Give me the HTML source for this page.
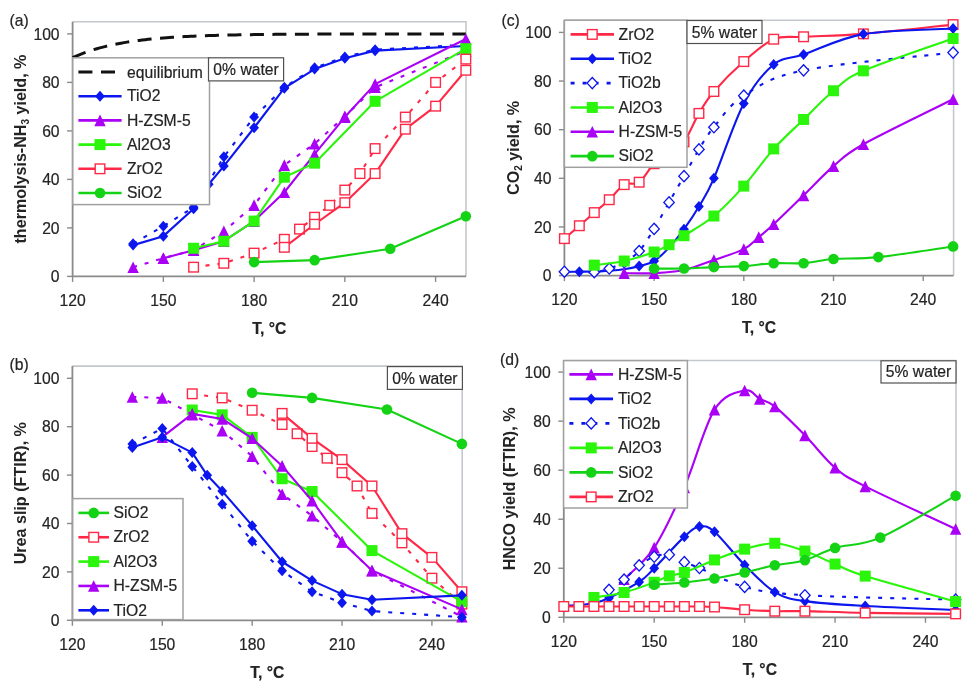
<!DOCTYPE html><html><head><meta charset="utf-8"><style>html,body{margin:0;padding:0;background:#fff;width:975px;height:686px;overflow:hidden}svg{display:block;filter:blur(0.3px)}text{font-family:"Liberation Sans", sans-serif}</style></head><body>
<svg width="975" height="686" viewBox="0 0 975 686">
<rect width="975" height="686" fill="#fff"/>
<text x="9.5" y="25.8" text-anchor="start" font-size="15.7" fill="#242424" stroke="#242424" stroke-width="0.2">(a)</text>
<path d="M72.6 21.7 L466 21.7 L466 276.4" fill="none" stroke="#c4c8cc" stroke-width="1.6"/>
<path d="M72.6 21.7 L72.6 276.4 L466 276.4" fill="none" stroke="#8a8a8a" stroke-width="1.8"/>
<path d="M67.1 276.4 H72.6" stroke="#8a8a8a" stroke-width="1.4"/>
<text x="59.6" y="282" text-anchor="end" font-size="15.7" fill="#242424" stroke="#242424" stroke-width="0.2">0</text>
<path d="M67.1 227.9 H72.6" stroke="#8a8a8a" stroke-width="1.4"/>
<text x="59.6" y="233.5" text-anchor="end" font-size="15.7" fill="#242424" stroke="#242424" stroke-width="0.2">20</text>
<path d="M67.1 179.4 H72.6" stroke="#8a8a8a" stroke-width="1.4"/>
<text x="59.6" y="185" text-anchor="end" font-size="15.7" fill="#242424" stroke="#242424" stroke-width="0.2">40</text>
<path d="M67.1 130.9 H72.6" stroke="#8a8a8a" stroke-width="1.4"/>
<text x="59.6" y="136.5" text-anchor="end" font-size="15.7" fill="#242424" stroke="#242424" stroke-width="0.2">60</text>
<path d="M67.1 82.4 H72.6" stroke="#8a8a8a" stroke-width="1.4"/>
<text x="59.6" y="88" text-anchor="end" font-size="15.7" fill="#242424" stroke="#242424" stroke-width="0.2">80</text>
<path d="M67.1 33.9 H72.6" stroke="#8a8a8a" stroke-width="1.4"/>
<text x="59.6" y="39.5" text-anchor="end" font-size="15.7" fill="#242424" stroke="#242424" stroke-width="0.2">100</text>
<path d="M72.6 276.4 V281.9" stroke="#8a8a8a" stroke-width="1.4"/>
<text x="72.6" y="306.2" text-anchor="middle" font-size="15.7" fill="#242424" stroke="#242424" stroke-width="0.2">120</text>
<path d="M163.35 276.4 V281.9" stroke="#8a8a8a" stroke-width="1.4"/>
<text x="163.35" y="306.2" text-anchor="middle" font-size="15.7" fill="#242424" stroke="#242424" stroke-width="0.2">150</text>
<path d="M254.1 276.4 V281.9" stroke="#8a8a8a" stroke-width="1.4"/>
<text x="254.1" y="306.2" text-anchor="middle" font-size="15.7" fill="#242424" stroke="#242424" stroke-width="0.2">180</text>
<path d="M344.85 276.4 V281.9" stroke="#8a8a8a" stroke-width="1.4"/>
<text x="344.85" y="306.2" text-anchor="middle" font-size="15.7" fill="#242424" stroke="#242424" stroke-width="0.2">210</text>
<path d="M435.6 276.4 V281.9" stroke="#8a8a8a" stroke-width="1.4"/>
<text x="435.6" y="306.2" text-anchor="middle" font-size="15.7" fill="#242424" stroke="#242424" stroke-width="0.2">240</text>
<text x="269.3" y="333.7" text-anchor="middle" font-size="15.7" font-weight="bold" fill="#242424" stroke="#242424" stroke-width="0.2">T, °C</text>
<text transform="translate(26 149.05) rotate(-90)" text-anchor="middle" font-size="16.1" font-weight="bold" fill="#242424">thermolysis-NH<tspan font-size="10" dy="3">3</tspan><tspan dy="-3"> yield, %</tspan></text>
<path d="M72.6 57.66 L75.62 56.31 L78.65 55.03 L81.67 53.82 L84.7 52.68 L87.72 51.61 L90.75 50.6 L93.77 49.64 L96.8 48.74 L99.82 47.9 L102.85 47.1 L105.88 46.34 L108.9 45.63 L111.92 44.96 L114.95 44.33 L117.97 43.73 L121 43.17 L124.02 42.64 L127.05 42.14 L130.07 41.67 L133.1 41.23 L136.12 40.81 L139.15 40.41 L142.18 40.04 L145.2 39.69 L148.22 39.36 L151.25 39.05 L154.27 38.75 L157.3 38.48 L160.32 38.22 L163.35 37.97 L166.38 37.74 L169.4 37.52 L172.43 37.31 L175.45 37.12 L178.47 36.93 L181.5 36.76 L184.52 36.6 L187.55 36.44 L190.57 36.3 L193.6 36.16 L196.62 36.03 L199.65 35.91 L202.67 35.79 L205.7 35.69 L208.72 35.58 L211.75 35.49 L214.77 35.4 L217.8 35.31 L220.82 35.23 L223.85 35.15 L226.88 35.08 L229.9 35.02 L232.92 34.95 L235.95 34.89 L238.97 34.84 L242 34.78 L245.02 34.73 L248.05 34.68 L251.07 34.64 L254.1 34.6 L257.12 34.56 L260.15 34.52 L263.17 34.48 L266.2 34.45 L269.23 34.42 L272.25 34.39 L275.27 34.36 L278.3 34.34 L281.32 34.31 L284.35 34.29 L287.38 34.26 L290.4 34.24 L293.42 34.22 L296.45 34.21 L299.48 34.19 L302.5 34.17 L305.52 34.16 L308.55 34.14 L311.57 34.13 L314.6 34.11 L317.62 34.1 L320.65 34.09 L323.67 34.08 L326.7 34.07 L329.73 34.06 L332.75 34.05 L335.77 34.04 L338.8 34.03 L341.82 34.03 L344.85 34.02 L347.88 34.01 L350.9 34.01 L353.92 34 L356.95 33.99 L359.98 33.99 L363 33.98 L366.02 33.98 L369.05 33.97 L372.07 33.97 L375.1 33.97 L378.12 33.96 L381.15 33.96 L384.17 33.96 L387.2 33.95 L390.23 33.95 L393.25 33.95 L396.27 33.94 L399.3 33.94 L402.32 33.94 L405.35 33.94 L408.38 33.93 L411.4 33.93 L414.42 33.93 L417.45 33.93 L420.48 33.93 L423.5 33.93 L426.52 33.92 L429.55 33.92 L432.57 33.92 L435.6 33.92 L438.62 33.92 L441.65 33.92 L444.67 33.92 L447.7 33.92 L450.73 33.92 L453.75 33.91 L456.77 33.91 L459.8 33.91 L462.82 33.91 L465.85 33.91" fill="none" stroke="#111" stroke-width="3" stroke-dasharray="14 8.5"/>
<path d="M133.1 245.12 L163.35 236.14 L193.6 208.74 L208.72 184.25 L223.85 166.06 L254.1 127.75 L284.35 88.22 L314.6 69.06 L344.85 58.15 L375.1 50.63 L465.85 46.03" fill="none" stroke="#0c16ee" stroke-width="2.1" stroke-linejoin="round"/>
<path d="M133.1 239.62 L138 245.12 L133.1 250.62 L128.2 245.12 Z" fill="#0c16ee"/>
<path d="M163.35 230.64 L168.25 236.14 L163.35 241.64 L158.45 236.14 Z" fill="#0c16ee"/>
<path d="M193.6 203.24 L198.5 208.74 L193.6 214.24 L188.7 208.74 Z" fill="#0c16ee"/>
<path d="M208.72 178.75 L213.62 184.25 L208.72 189.75 L203.82 184.25 Z" fill="#0c16ee"/>
<path d="M223.85 160.56 L228.75 166.06 L223.85 171.56 L218.95 166.06 Z" fill="#0c16ee"/>
<path d="M254.1 122.25 L259 127.75 L254.1 133.25 L249.2 127.75 Z" fill="#0c16ee"/>
<path d="M284.35 82.72 L289.25 88.22 L284.35 93.72 L279.45 88.22 Z" fill="#0c16ee"/>
<path d="M314.6 63.56 L319.5 69.06 L314.6 74.56 L309.7 69.06 Z" fill="#0c16ee"/>
<path d="M344.85 52.65 L349.75 58.15 L344.85 63.65 L339.95 58.15 Z" fill="#0c16ee"/>
<path d="M375.1 45.13 L380 50.63 L375.1 56.13 L370.2 50.63 Z" fill="#0c16ee"/>
<path d="M465.85 40.53 L470.75 46.03 L465.85 51.53 L460.95 46.03 Z" fill="#0c16ee"/>
<path d="M133.1 243.66 L163.35 226.2 L193.6 207.29 L223.85 156.85 L254.1 117.08 L284.35 87.25 L314.6 67.85 L344.85 56.94 L375.1 49.66 L465.85 44.81" fill="none" stroke="#0c16ee" stroke-width="2.1" stroke-dasharray="4 8" stroke-linejoin="round"/>
<path d="M133.1 238.16 L138 243.66 L133.1 249.16 L128.2 243.66 Z" fill="#0c16ee"/>
<path d="M163.35 220.7 L168.25 226.2 L163.35 231.7 L158.45 226.2 Z" fill="#0c16ee"/>
<path d="M193.6 201.79 L198.5 207.29 L193.6 212.79 L188.7 207.29 Z" fill="#0c16ee"/>
<path d="M223.85 151.35 L228.75 156.85 L223.85 162.35 L218.95 156.85 Z" fill="#0c16ee"/>
<path d="M254.1 111.58 L259 117.08 L254.1 122.58 L249.2 117.08 Z" fill="#0c16ee"/>
<path d="M284.35 81.75 L289.25 87.25 L284.35 92.75 L279.45 87.25 Z" fill="#0c16ee"/>
<path d="M314.6 62.35 L319.5 67.85 L314.6 73.35 L309.7 67.85 Z" fill="#0c16ee"/>
<path d="M344.85 51.44 L349.75 56.94 L344.85 62.44 L339.95 56.94 Z" fill="#0c16ee"/>
<path d="M375.1 44.16 L380 49.66 L375.1 55.16 L370.2 49.66 Z" fill="#0c16ee"/>
<path d="M465.85 39.31 L470.75 44.81 L465.85 50.31 L460.95 44.81 Z" fill="#0c16ee"/>
<path d="M133.1 267.19 L163.35 258.21 L193.6 250.21 L223.85 231.29 L254.1 205.1 L284.35 165.09 L314.6 143.75 L344.85 116.35 L375.1 87.25 L465.85 50.88" fill="none" stroke="#aa00f5" stroke-width="2.1" stroke-dasharray="4 8" stroke-linejoin="round"/>
<path d="M133.1 261.38 L138.8 272.99 L127.4 272.99 Z" fill="#aa00f5"/>
<path d="M163.35 252.41 L169.05 264.01 L157.65 264.01 Z" fill="#aa00f5"/>
<path d="M193.6 244.41 L199.3 256.01 L187.9 256.01 Z" fill="#aa00f5"/>
<path d="M223.85 225.49 L229.55 237.09 L218.15 237.09 Z" fill="#aa00f5"/>
<path d="M254.1 199.3 L259.8 210.91 L248.4 210.91 Z" fill="#aa00f5"/>
<path d="M284.35 159.29 L290.05 170.89 L278.65 170.89 Z" fill="#aa00f5"/>
<path d="M314.6 137.95 L320.3 149.55 L308.9 149.55 Z" fill="#aa00f5"/>
<path d="M344.85 110.55 L350.55 122.15 L339.15 122.15 Z" fill="#aa00f5"/>
<path d="M375.1 81.45 L380.8 93.05 L369.4 93.05 Z" fill="#aa00f5"/>
<path d="M465.85 45.08 L471.55 56.67 L460.15 56.67 Z" fill="#aa00f5"/>
<path d="M163.35 258.21 L193.6 250.21 L223.85 241.24 L254.1 221.11 L284.35 192.25 L314.6 154.18 L344.85 117.08 L375.1 84.1 L465.85 38.99" fill="none" stroke="#aa00f5" stroke-width="2.1" stroke-linejoin="round"/>
<path d="M163.35 252.41 L169.05 264.01 L157.65 264.01 Z" fill="#aa00f5"/>
<path d="M193.6 244.41 L199.3 256.01 L187.9 256.01 Z" fill="#aa00f5"/>
<path d="M223.85 235.44 L229.55 247.04 L218.15 247.04 Z" fill="#aa00f5"/>
<path d="M254.1 215.31 L259.8 226.91 L248.4 226.91 Z" fill="#aa00f5"/>
<path d="M284.35 186.45 L290.05 198.05 L278.65 198.05 Z" fill="#aa00f5"/>
<path d="M314.6 148.38 L320.3 159.98 L308.9 159.98 Z" fill="#aa00f5"/>
<path d="M344.85 111.28 L350.55 122.88 L339.15 122.88 Z" fill="#aa00f5"/>
<path d="M375.1 78.3 L380.8 89.9 L369.4 89.9 Z" fill="#aa00f5"/>
<path d="M465.85 33.19 L471.55 44.79 L460.15 44.79 Z" fill="#aa00f5"/>
<path d="M193.6 248.27 L223.85 241.24 L254.1 221.11 L284.35 177.22 L314.6 163.15 L375.1 101.31 L465.85 48.69" fill="none" stroke="#2af50a" stroke-width="2.1" stroke-linejoin="round"/>
<rect x="188.1" y="242.77" width="11" height="11" fill="#2af50a"/>
<rect x="218.35" y="235.74" width="11" height="11" fill="#2af50a"/>
<rect x="248.6" y="215.61" width="11" height="11" fill="#2af50a"/>
<rect x="278.85" y="171.72" width="11" height="11" fill="#2af50a"/>
<rect x="309.1" y="157.65" width="11" height="11" fill="#2af50a"/>
<rect x="369.6" y="95.81" width="11" height="11" fill="#2af50a"/>
<rect x="460.35" y="43.19" width="11" height="11" fill="#2af50a"/>
<path d="M193.6 267.19 L223.85 263.3 L254.1 253.12 L284.35 239.3 L299.48 229.11 L314.6 217.23 L329.73 205.35 L344.85 190.07 L359.98 173.58 L375.1 148.6 L405.35 117.08 L435.6 82.4 L465.85 59.12" fill="none" stroke="#ff2846" stroke-width="2.1" stroke-dasharray="4 8" stroke-linejoin="round"/>
<rect x="188.8" y="262.38" width="9.6" height="9.6" fill="#fff" stroke="#ff2846" stroke-width="1.4"/>
<rect x="219.05" y="258.5" width="9.6" height="9.6" fill="#fff" stroke="#ff2846" stroke-width="1.4"/>
<rect x="249.3" y="248.32" width="9.6" height="9.6" fill="#fff" stroke="#ff2846" stroke-width="1.4"/>
<rect x="279.55" y="234.5" width="9.6" height="9.6" fill="#fff" stroke="#ff2846" stroke-width="1.4"/>
<rect x="294.68" y="224.31" width="9.6" height="9.6" fill="#fff" stroke="#ff2846" stroke-width="1.4"/>
<rect x="309.8" y="212.43" width="9.6" height="9.6" fill="#fff" stroke="#ff2846" stroke-width="1.4"/>
<rect x="324.93" y="200.55" width="9.6" height="9.6" fill="#fff" stroke="#ff2846" stroke-width="1.4"/>
<rect x="340.05" y="185.27" width="9.6" height="9.6" fill="#fff" stroke="#ff2846" stroke-width="1.4"/>
<rect x="355.18" y="168.78" width="9.6" height="9.6" fill="#fff" stroke="#ff2846" stroke-width="1.4"/>
<rect x="370.3" y="143.8" width="9.6" height="9.6" fill="#fff" stroke="#ff2846" stroke-width="1.4"/>
<rect x="400.55" y="112.28" width="9.6" height="9.6" fill="#fff" stroke="#ff2846" stroke-width="1.4"/>
<rect x="430.8" y="77.6" width="9.6" height="9.6" fill="#fff" stroke="#ff2846" stroke-width="1.4"/>
<rect x="461.05" y="54.32" width="9.6" height="9.6" fill="#fff" stroke="#ff2846" stroke-width="1.4"/>
<path d="M284.35 247.3 L314.6 224.26 L344.85 202.68 L375.1 173.58 L405.35 129.2 L435.6 106.16 L465.85 70.28" fill="none" stroke="#ff2846" stroke-width="2.1" stroke-linejoin="round"/>
<rect x="279.55" y="242.5" width="9.6" height="9.6" fill="#fff" stroke="#ff2846" stroke-width="1.4"/>
<rect x="309.8" y="219.46" width="9.6" height="9.6" fill="#fff" stroke="#ff2846" stroke-width="1.4"/>
<rect x="340.05" y="197.88" width="9.6" height="9.6" fill="#fff" stroke="#ff2846" stroke-width="1.4"/>
<rect x="370.3" y="168.78" width="9.6" height="9.6" fill="#fff" stroke="#ff2846" stroke-width="1.4"/>
<rect x="400.55" y="124.4" width="9.6" height="9.6" fill="#fff" stroke="#ff2846" stroke-width="1.4"/>
<rect x="430.8" y="101.36" width="9.6" height="9.6" fill="#fff" stroke="#ff2846" stroke-width="1.4"/>
<rect x="461.05" y="65.48" width="9.6" height="9.6" fill="#fff" stroke="#ff2846" stroke-width="1.4"/>
<path d="M254.1 262.09 L314.6 260.15 L390.23 248.75 L465.85 216.26" fill="none" stroke="#14d214" stroke-width="2.1" stroke-linejoin="round"/>
<circle cx="254.1" cy="262.09" r="5.3" fill="#14d214"/>
<circle cx="314.6" cy="260.15" r="5.3" fill="#14d214"/>
<circle cx="390.23" cy="248.75" r="5.3" fill="#14d214"/>
<circle cx="465.85" cy="216.26" r="5.3" fill="#14d214"/>
<rect x="72.8" y="57.8" width="136.7" height="146.8" fill="#fff" stroke="#a0a0a0" stroke-width="1.5"/>
<path d="M78.4 72 H121.6" stroke="#111" stroke-width="3" stroke-dasharray="14 8.6"/>
<text x="127" y="77.6" text-anchor="start" font-size="15.7" fill="#242424" stroke="#242424" stroke-width="0.2">equilibrium</text>
<path d="M78.4 96.2 H121.6" stroke="#0c16ee" stroke-width="2.6"/>
<path d="M100 90.7 L104.9 96.2 L100 101.7 L95.1 96.2 Z" fill="#0c16ee"/>
<text x="127" y="101.4" text-anchor="start" font-size="15.7" fill="#242424" stroke="#242424" stroke-width="0.2">TiO2</text>
<path d="M78.4 120.4 H121.6" stroke="#aa00f5" stroke-width="2.6"/>
<path d="M100 114.6 L105.7 126.2 L94.3 126.2 Z" fill="#aa00f5"/>
<text x="127" y="125.6" text-anchor="start" font-size="15.7" fill="#242424" stroke="#242424" stroke-width="0.2">H-ZSM-5</text>
<path d="M78.4 144.6 H121.6" stroke="#2af50a" stroke-width="2.6"/>
<rect x="94.5" y="139.1" width="11" height="11" fill="#2af50a"/>
<text x="127" y="149.8" text-anchor="start" font-size="15.7" fill="#242424" stroke="#242424" stroke-width="0.2">Al2O3</text>
<path d="M78.4 168.8 H121.6" stroke="#ff2846" stroke-width="2.6"/>
<rect x="95.2" y="164" width="9.6" height="9.6" fill="#fff" stroke="#ff2846" stroke-width="1.4"/>
<text x="127" y="174" text-anchor="start" font-size="15.7" fill="#242424" stroke="#242424" stroke-width="0.2">ZrO2</text>
<path d="M78.4 193 H121.6" stroke="#14d214" stroke-width="2.6"/>
<circle cx="100" cy="193" r="5.3" fill="#14d214"/>
<text x="127" y="198.2" text-anchor="start" font-size="15.7" fill="#242424" stroke="#242424" stroke-width="0.2">SiO2</text>
<rect x="208.5" y="57.8" width="75.1" height="23.1" fill="#fff" stroke="#505050" stroke-width="1.2"/>
<text x="246.05" y="74.85" text-anchor="middle" font-size="15.7" fill="#242424" stroke="#242424" stroke-width="0.2">0% water</text>
<text x="9.5" y="369.7" text-anchor="start" font-size="15.7" fill="#242424" stroke="#242424" stroke-width="0.2">(b)</text>
<path d="M72.4 366.1 L462.2 366.1 L462.2 620.3" fill="none" stroke="#c4c8cc" stroke-width="1.6"/>
<path d="M72.4 366.1 L72.4 620.3 L462.2 620.3" fill="none" stroke="#8a8a8a" stroke-width="1.8"/>
<path d="M66.9 620.3 H72.4" stroke="#8a8a8a" stroke-width="1.4"/>
<text x="59.4" y="625.9" text-anchor="end" font-size="15.7" fill="#242424" stroke="#242424" stroke-width="0.2">0</text>
<path d="M66.9 571.9 H72.4" stroke="#8a8a8a" stroke-width="1.4"/>
<text x="59.4" y="577.5" text-anchor="end" font-size="15.7" fill="#242424" stroke="#242424" stroke-width="0.2">20</text>
<path d="M66.9 523.5 H72.4" stroke="#8a8a8a" stroke-width="1.4"/>
<text x="59.4" y="529.1" text-anchor="end" font-size="15.7" fill="#242424" stroke="#242424" stroke-width="0.2">40</text>
<path d="M66.9 475.1 H72.4" stroke="#8a8a8a" stroke-width="1.4"/>
<text x="59.4" y="480.7" text-anchor="end" font-size="15.7" fill="#242424" stroke="#242424" stroke-width="0.2">60</text>
<path d="M66.9 426.7 H72.4" stroke="#8a8a8a" stroke-width="1.4"/>
<text x="59.4" y="432.3" text-anchor="end" font-size="15.7" fill="#242424" stroke="#242424" stroke-width="0.2">80</text>
<path d="M66.9 378.3 H72.4" stroke="#8a8a8a" stroke-width="1.4"/>
<text x="59.4" y="383.9" text-anchor="end" font-size="15.7" fill="#242424" stroke="#242424" stroke-width="0.2">100</text>
<path d="M72.4 620.3 V625.8" stroke="#8a8a8a" stroke-width="1.4"/>
<text x="72.4" y="650.1" text-anchor="middle" font-size="15.7" fill="#242424" stroke="#242424" stroke-width="0.2">120</text>
<path d="M162.28 620.3 V625.8" stroke="#8a8a8a" stroke-width="1.4"/>
<text x="162.28" y="650.1" text-anchor="middle" font-size="15.7" fill="#242424" stroke="#242424" stroke-width="0.2">150</text>
<path d="M252.16 620.3 V625.8" stroke="#8a8a8a" stroke-width="1.4"/>
<text x="252.16" y="650.1" text-anchor="middle" font-size="15.7" fill="#242424" stroke="#242424" stroke-width="0.2">180</text>
<path d="M342.04 620.3 V625.8" stroke="#8a8a8a" stroke-width="1.4"/>
<text x="342.04" y="650.1" text-anchor="middle" font-size="15.7" fill="#242424" stroke="#242424" stroke-width="0.2">210</text>
<path d="M431.92 620.3 V625.8" stroke="#8a8a8a" stroke-width="1.4"/>
<text x="431.92" y="650.1" text-anchor="middle" font-size="15.7" fill="#242424" stroke="#242424" stroke-width="0.2">240</text>
<text x="267.3" y="677.6" text-anchor="middle" font-size="15.7" font-weight="bold" fill="#242424" stroke="#242424" stroke-width="0.2">T, °C</text>
<text transform="translate(25.5 493.2) rotate(-90)" text-anchor="middle" font-size="16.1" font-weight="bold" fill="#242424">Urea slip (FTIR), %</text>
<path d="M252.16 392.82 L312.08 397.9 L386.98 409.52 L461.88 443.88" fill="none" stroke="#14d214" stroke-width="2.1" stroke-linejoin="round"/>
<circle cx="252.16" cy="392.82" r="5.3" fill="#14d214"/>
<circle cx="312.08" cy="397.9" r="5.3" fill="#14d214"/>
<circle cx="386.98" cy="409.52" r="5.3" fill="#14d214"/>
<circle cx="461.88" cy="443.88" r="5.3" fill="#14d214"/>
<path d="M192.24 393.79 L222.2 397.9 L252.16 410.24 L282.12 424.52 L297.1 433.72 L312.08 446.54 L327.06 458.16 L342.04 472.68 L357.02 485.99 L372 513.34 L401.96 542.86 L431.92 578.19 L461.88 604.09" fill="none" stroke="#ff2846" stroke-width="2.1" stroke-dasharray="4 8" stroke-linejoin="round"/>
<rect x="187.44" y="388.99" width="9.6" height="9.6" fill="#fff" stroke="#ff2846" stroke-width="1.4"/>
<rect x="217.4" y="393.1" width="9.6" height="9.6" fill="#fff" stroke="#ff2846" stroke-width="1.4"/>
<rect x="247.36" y="405.44" width="9.6" height="9.6" fill="#fff" stroke="#ff2846" stroke-width="1.4"/>
<rect x="277.32" y="419.72" width="9.6" height="9.6" fill="#fff" stroke="#ff2846" stroke-width="1.4"/>
<rect x="292.3" y="428.92" width="9.6" height="9.6" fill="#fff" stroke="#ff2846" stroke-width="1.4"/>
<rect x="307.28" y="441.74" width="9.6" height="9.6" fill="#fff" stroke="#ff2846" stroke-width="1.4"/>
<rect x="322.26" y="453.36" width="9.6" height="9.6" fill="#fff" stroke="#ff2846" stroke-width="1.4"/>
<rect x="337.24" y="467.88" width="9.6" height="9.6" fill="#fff" stroke="#ff2846" stroke-width="1.4"/>
<rect x="352.22" y="481.19" width="9.6" height="9.6" fill="#fff" stroke="#ff2846" stroke-width="1.4"/>
<rect x="367.2" y="508.54" width="9.6" height="9.6" fill="#fff" stroke="#ff2846" stroke-width="1.4"/>
<rect x="397.16" y="538.06" width="9.6" height="9.6" fill="#fff" stroke="#ff2846" stroke-width="1.4"/>
<rect x="427.12" y="573.39" width="9.6" height="9.6" fill="#fff" stroke="#ff2846" stroke-width="1.4"/>
<rect x="457.08" y="599.29" width="9.6" height="9.6" fill="#fff" stroke="#ff2846" stroke-width="1.4"/>
<path d="M282.12 413.39 L312.08 438.32 L342.04 459.61 L372 485.99 L401.96 533.66 L431.92 557.38 L461.88 591.74" fill="none" stroke="#ff2846" stroke-width="2.1" stroke-linejoin="round"/>
<rect x="277.32" y="408.59" width="9.6" height="9.6" fill="#fff" stroke="#ff2846" stroke-width="1.4"/>
<rect x="307.28" y="433.52" width="9.6" height="9.6" fill="#fff" stroke="#ff2846" stroke-width="1.4"/>
<rect x="337.24" y="454.81" width="9.6" height="9.6" fill="#fff" stroke="#ff2846" stroke-width="1.4"/>
<rect x="367.2" y="481.19" width="9.6" height="9.6" fill="#fff" stroke="#ff2846" stroke-width="1.4"/>
<rect x="397.16" y="528.86" width="9.6" height="9.6" fill="#fff" stroke="#ff2846" stroke-width="1.4"/>
<rect x="427.12" y="552.58" width="9.6" height="9.6" fill="#fff" stroke="#ff2846" stroke-width="1.4"/>
<rect x="457.08" y="586.94" width="9.6" height="9.6" fill="#fff" stroke="#ff2846" stroke-width="1.4"/>
<path d="M192.24 410 L222.2 414.84 L252.16 437.35 L282.12 478.73 L312.08 491.56 L372 550.6 L461.88 601.67" fill="none" stroke="#2af50a" stroke-width="2.1" stroke-linejoin="round"/>
<rect x="186.74" y="404.5" width="11" height="11" fill="#2af50a"/>
<rect x="216.7" y="409.34" width="11" height="11" fill="#2af50a"/>
<rect x="246.66" y="431.85" width="11" height="11" fill="#2af50a"/>
<rect x="276.62" y="473.23" width="11" height="11" fill="#2af50a"/>
<rect x="306.58" y="486.06" width="11" height="11" fill="#2af50a"/>
<rect x="366.5" y="545.1" width="11" height="11" fill="#2af50a"/>
<rect x="456.38" y="596.17" width="11" height="11" fill="#2af50a"/>
<path d="M132.32 396.93 L162.28 397.9 L192.24 414.6 L222.2 430.81 L252.16 456.22 L282.12 494.22 L312.08 515.76 L342.04 541.65 L372 570.69 L461.88 616.67" fill="none" stroke="#aa00f5" stroke-width="2.1" stroke-dasharray="4 8" stroke-linejoin="round"/>
<path d="M132.32 391.13 L138.02 402.73 L126.62 402.73 Z" fill="#aa00f5"/>
<path d="M162.28 392.1 L167.98 403.7 L156.58 403.7 Z" fill="#aa00f5"/>
<path d="M192.24 408.8 L197.94 420.4 L186.54 420.4 Z" fill="#aa00f5"/>
<path d="M222.2 425.01 L227.9 436.61 L216.5 436.61 Z" fill="#aa00f5"/>
<path d="M252.16 450.42 L257.86 462.02 L246.46 462.02 Z" fill="#aa00f5"/>
<path d="M282.12 488.42 L287.82 500.02 L276.42 500.02 Z" fill="#aa00f5"/>
<path d="M312.08 509.96 L317.78 521.56 L306.38 521.56 Z" fill="#aa00f5"/>
<path d="M342.04 535.85 L347.74 547.45 L336.34 547.45 Z" fill="#aa00f5"/>
<path d="M372 564.89 L377.7 576.49 L366.3 576.49 Z" fill="#aa00f5"/>
<path d="M461.88 610.87 L467.58 622.47 L456.18 622.47 Z" fill="#aa00f5"/>
<path d="M162.28 437.11 L192.24 413.87 L222.2 418.96 L252.16 438.32 L282.12 465.9 L312.08 500.75 L342.04 541.89 L372 570.45 L461.88 609.41" fill="none" stroke="#aa00f5" stroke-width="2.1" stroke-linejoin="round"/>
<path d="M162.28 431.31 L167.98 442.91 L156.58 442.91 Z" fill="#aa00f5"/>
<path d="M192.24 408.07 L197.94 419.67 L186.54 419.67 Z" fill="#aa00f5"/>
<path d="M222.2 413.16 L227.9 424.76 L216.5 424.76 Z" fill="#aa00f5"/>
<path d="M252.16 432.52 L257.86 444.12 L246.46 444.12 Z" fill="#aa00f5"/>
<path d="M282.12 460.1 L287.82 471.7 L276.42 471.7 Z" fill="#aa00f5"/>
<path d="M312.08 494.95 L317.78 506.55 L306.38 506.55 Z" fill="#aa00f5"/>
<path d="M342.04 536.09 L347.74 547.69 L336.34 547.69 Z" fill="#aa00f5"/>
<path d="M372 564.65 L377.7 576.25 L366.3 576.25 Z" fill="#aa00f5"/>
<path d="M461.88 603.61 L467.58 615.21 L456.18 615.21 Z" fill="#aa00f5"/>
<path d="M132.32 444.12 L162.28 428.39 L192.24 466.39 L222.2 504.14 L252.16 541.17 L282.12 570.69 L312.08 591.74 L342.04 602.63 L372 611.1 L461.88 617.15" fill="none" stroke="#0c16ee" stroke-width="2.1" stroke-dasharray="4 8" stroke-linejoin="round"/>
<path d="M132.32 438.62 L137.22 444.12 L132.32 449.62 L127.42 444.12 Z" fill="#0c16ee"/>
<path d="M162.28 422.89 L167.18 428.39 L162.28 433.89 L157.38 428.39 Z" fill="#0c16ee"/>
<path d="M192.24 460.89 L197.14 466.39 L192.24 471.89 L187.34 466.39 Z" fill="#0c16ee"/>
<path d="M222.2 498.64 L227.1 504.14 L222.2 509.64 L217.3 504.14 Z" fill="#0c16ee"/>
<path d="M252.16 535.67 L257.06 541.17 L252.16 546.67 L247.26 541.17 Z" fill="#0c16ee"/>
<path d="M282.12 565.19 L287.02 570.69 L282.12 576.19 L277.22 570.69 Z" fill="#0c16ee"/>
<path d="M312.08 586.24 L316.98 591.74 L312.08 597.24 L307.18 591.74 Z" fill="#0c16ee"/>
<path d="M342.04 597.13 L346.94 602.63 L342.04 608.13 L337.14 602.63 Z" fill="#0c16ee"/>
<path d="M372 605.6 L376.9 611.1 L372 616.6 L367.1 611.1 Z" fill="#0c16ee"/>
<path d="M461.88 611.65 L466.78 617.15 L461.88 622.65 L456.98 617.15 Z" fill="#0c16ee"/>
<path d="M132.32 447.51 L162.28 437.35 L192.24 452.59 L207.22 475.34 L222.2 491.07 L252.16 525.68 L282.12 561.74 L312.08 580.61 L342.04 594.16 L372 599.73 L461.88 595.37" fill="none" stroke="#0c16ee" stroke-width="2.1" stroke-linejoin="round"/>
<path d="M132.32 442.01 L137.22 447.51 L132.32 453.01 L127.42 447.51 Z" fill="#0c16ee"/>
<path d="M162.28 431.85 L167.18 437.35 L162.28 442.85 L157.38 437.35 Z" fill="#0c16ee"/>
<path d="M192.24 447.09 L197.14 452.59 L192.24 458.09 L187.34 452.59 Z" fill="#0c16ee"/>
<path d="M207.22 469.84 L212.12 475.34 L207.22 480.84 L202.32 475.34 Z" fill="#0c16ee"/>
<path d="M222.2 485.57 L227.1 491.07 L222.2 496.57 L217.3 491.07 Z" fill="#0c16ee"/>
<path d="M252.16 520.18 L257.06 525.68 L252.16 531.18 L247.26 525.68 Z" fill="#0c16ee"/>
<path d="M282.12 556.24 L287.02 561.74 L282.12 567.24 L277.22 561.74 Z" fill="#0c16ee"/>
<path d="M312.08 575.11 L316.98 580.61 L312.08 586.11 L307.18 580.61 Z" fill="#0c16ee"/>
<path d="M342.04 588.66 L346.94 594.16 L342.04 599.66 L337.14 594.16 Z" fill="#0c16ee"/>
<path d="M372 594.23 L376.9 599.73 L372 605.23 L367.1 599.73 Z" fill="#0c16ee"/>
<path d="M461.88 589.87 L466.78 595.37 L461.88 600.87 L456.98 595.37 Z" fill="#0c16ee"/>
<rect x="72.7" y="498.6" width="110.3" height="121" fill="#fff" stroke="#a0a0a0" stroke-width="1.5"/>
<path d="M78.4 512.9 H109" stroke="#14d214" stroke-width="2.6"/>
<circle cx="93.7" cy="512.9" r="5.3" fill="#14d214"/>
<text x="113.5" y="518.1" text-anchor="start" font-size="15.7" fill="#242424" stroke="#242424" stroke-width="0.2">SiO2</text>
<path d="M78.4 537.25 H109" stroke="#ff2846" stroke-width="2.6"/>
<rect x="88.9" y="532.45" width="9.6" height="9.6" fill="#fff" stroke="#ff2846" stroke-width="1.4"/>
<text x="113.5" y="542.45" text-anchor="start" font-size="15.7" fill="#242424" stroke="#242424" stroke-width="0.2">ZrO2</text>
<path d="M78.4 561.6 H109" stroke="#2af50a" stroke-width="2.6"/>
<rect x="88.2" y="556.1" width="11" height="11" fill="#2af50a"/>
<text x="113.5" y="566.8" text-anchor="start" font-size="15.7" fill="#242424" stroke="#242424" stroke-width="0.2">Al2O3</text>
<path d="M78.4 585.95 H109" stroke="#aa00f5" stroke-width="2.6"/>
<path d="M93.7 580.15 L99.4 591.75 L88 591.75 Z" fill="#aa00f5"/>
<text x="113.5" y="591.15" text-anchor="start" font-size="15.7" fill="#242424" stroke="#242424" stroke-width="0.2">H-ZSM-5</text>
<path d="M78.4 610.3 H109" stroke="#0c16ee" stroke-width="2.6"/>
<path d="M93.7 604.8 L98.6 610.3 L93.7 615.8 L88.8 610.3 Z" fill="#0c16ee"/>
<text x="113.5" y="615.5" text-anchor="start" font-size="15.7" fill="#242424" stroke="#242424" stroke-width="0.2">TiO2</text>
<rect x="387.4" y="366.6" width="75" height="22.8" fill="#fff" stroke="#505050" stroke-width="1.2"/>
<text x="424.9" y="383.5" text-anchor="middle" font-size="15.7" fill="#242424" stroke="#242424" stroke-width="0.2">0% water</text>
<text x="501.5" y="25.6" text-anchor="start" font-size="15.7" fill="#242424" stroke="#242424" stroke-width="0.2">(c)</text>
<path d="M564.4 20.2 L953.6 20.2 L953.6 275.6" fill="none" stroke="#c4c8cc" stroke-width="1.6"/>
<path d="M564.4 20.2 L564.4 275.6 L953.6 275.6" fill="none" stroke="#8a8a8a" stroke-width="1.8"/>
<path d="M558.9 275.6 H564.4" stroke="#8a8a8a" stroke-width="1.4"/>
<text x="551.4" y="281.2" text-anchor="end" font-size="15.7" fill="#242424" stroke="#242424" stroke-width="0.2">0</text>
<path d="M558.9 226.96 H564.4" stroke="#8a8a8a" stroke-width="1.4"/>
<text x="551.4" y="232.56" text-anchor="end" font-size="15.7" fill="#242424" stroke="#242424" stroke-width="0.2">20</text>
<path d="M558.9 178.32 H564.4" stroke="#8a8a8a" stroke-width="1.4"/>
<text x="551.4" y="183.92" text-anchor="end" font-size="15.7" fill="#242424" stroke="#242424" stroke-width="0.2">40</text>
<path d="M558.9 129.68 H564.4" stroke="#8a8a8a" stroke-width="1.4"/>
<text x="551.4" y="135.28" text-anchor="end" font-size="15.7" fill="#242424" stroke="#242424" stroke-width="0.2">60</text>
<path d="M558.9 81.04 H564.4" stroke="#8a8a8a" stroke-width="1.4"/>
<text x="551.4" y="86.64" text-anchor="end" font-size="15.7" fill="#242424" stroke="#242424" stroke-width="0.2">80</text>
<path d="M558.9 32.4 H564.4" stroke="#8a8a8a" stroke-width="1.4"/>
<text x="551.4" y="38" text-anchor="end" font-size="15.7" fill="#242424" stroke="#242424" stroke-width="0.2">100</text>
<path d="M564.4 275.6 V281.1" stroke="#8a8a8a" stroke-width="1.4"/>
<text x="564.4" y="305.4" text-anchor="middle" font-size="15.7" fill="#242424" stroke="#242424" stroke-width="0.2">120</text>
<path d="M654.1 275.6 V281.1" stroke="#8a8a8a" stroke-width="1.4"/>
<text x="654.1" y="305.4" text-anchor="middle" font-size="15.7" fill="#242424" stroke="#242424" stroke-width="0.2">150</text>
<path d="M743.8 275.6 V281.1" stroke="#8a8a8a" stroke-width="1.4"/>
<text x="743.8" y="305.4" text-anchor="middle" font-size="15.7" fill="#242424" stroke="#242424" stroke-width="0.2">180</text>
<path d="M833.5 275.6 V281.1" stroke="#8a8a8a" stroke-width="1.4"/>
<text x="833.5" y="305.4" text-anchor="middle" font-size="15.7" fill="#242424" stroke="#242424" stroke-width="0.2">210</text>
<path d="M923.2 275.6 V281.1" stroke="#8a8a8a" stroke-width="1.4"/>
<text x="923.2" y="305.4" text-anchor="middle" font-size="15.7" fill="#242424" stroke="#242424" stroke-width="0.2">240</text>
<text x="759" y="332.9" text-anchor="middle" font-size="15.7" font-weight="bold" fill="#242424" stroke="#242424" stroke-width="0.2">T, °C</text>
<text transform="translate(518.9 147.9) rotate(-90)" text-anchor="middle" font-size="16.1" font-weight="bold" fill="#242424">CO<tspan font-size="10" dy="3">2</tspan><tspan dy="-3"> yield, %</tspan></text>
<path d="M564.4 238.63 C566.89 236.49 574.37 230.08 579.35 225.74 C584.33 221.41 589.32 216.95 594.3 212.61 C599.28 208.27 604.27 204.38 609.25 199.72 C614.23 195.06 619.22 187.56 624.2 184.64 C629.18 181.72 634.17 185.7 639.15 182.21 C644.13 178.73 649.12 168.43 654.1 163.73 C659.08 159.03 664.07 157.65 669.05 154 C674.03 150.35 679.02 148.61 684 141.84 C688.98 135.07 693.97 121.78 698.95 113.39 C703.93 105 706.42 100.13 713.9 91.5 C721.38 82.86 733.83 70.3 743.8 61.58 C753.77 52.87 763.73 43.34 773.7 39.21 C783.67 35.08 788.65 37.67 803.6 36.78 C818.55 35.89 838.48 35.89 863.4 33.86 C888.32 31.83 938.15 26.16 953.1 24.62" fill="none" stroke="#ff2846" stroke-width="2.1" stroke-linejoin="round"/>
<rect x="559.6" y="233.83" width="9.6" height="9.6" fill="#fff" stroke="#ff2846" stroke-width="1.4"/>
<rect x="574.55" y="220.94" width="9.6" height="9.6" fill="#fff" stroke="#ff2846" stroke-width="1.4"/>
<rect x="589.5" y="207.81" width="9.6" height="9.6" fill="#fff" stroke="#ff2846" stroke-width="1.4"/>
<rect x="604.45" y="194.92" width="9.6" height="9.6" fill="#fff" stroke="#ff2846" stroke-width="1.4"/>
<rect x="619.4" y="179.84" width="9.6" height="9.6" fill="#fff" stroke="#ff2846" stroke-width="1.4"/>
<rect x="634.35" y="177.41" width="9.6" height="9.6" fill="#fff" stroke="#ff2846" stroke-width="1.4"/>
<rect x="649.3" y="158.93" width="9.6" height="9.6" fill="#fff" stroke="#ff2846" stroke-width="1.4"/>
<rect x="664.25" y="149.2" width="9.6" height="9.6" fill="#fff" stroke="#ff2846" stroke-width="1.4"/>
<rect x="679.2" y="137.04" width="9.6" height="9.6" fill="#fff" stroke="#ff2846" stroke-width="1.4"/>
<rect x="694.15" y="108.59" width="9.6" height="9.6" fill="#fff" stroke="#ff2846" stroke-width="1.4"/>
<rect x="709.1" y="86.7" width="9.6" height="9.6" fill="#fff" stroke="#ff2846" stroke-width="1.4"/>
<rect x="739" y="56.78" width="9.6" height="9.6" fill="#fff" stroke="#ff2846" stroke-width="1.4"/>
<rect x="768.9" y="34.41" width="9.6" height="9.6" fill="#fff" stroke="#ff2846" stroke-width="1.4"/>
<rect x="798.8" y="31.98" width="9.6" height="9.6" fill="#fff" stroke="#ff2846" stroke-width="1.4"/>
<rect x="858.6" y="29.06" width="9.6" height="9.6" fill="#fff" stroke="#ff2846" stroke-width="1.4"/>
<rect x="948.3" y="19.82" width="9.6" height="9.6" fill="#fff" stroke="#ff2846" stroke-width="1.4"/>
<path d="M564.4 271.95 C566.89 271.91 574.37 271.79 579.35 271.71 C584.33 271.63 589.32 271.63 594.3 271.47 C599.28 271.3 604.27 271.1 609.25 270.74 C614.23 270.37 619.22 270.05 624.2 269.28 C629.18 268.51 634.17 267.49 639.15 266.12 C644.13 264.74 649.12 264.09 654.1 261.01 C659.08 257.93 664.07 252.94 669.05 247.63 C674.03 242.32 679.02 236 684 229.15 C688.98 222.3 693.97 215 698.95 206.53 C703.93 198.06 706.42 195.51 713.9 178.32 C721.38 161.13 733.83 122.38 743.8 103.41 C753.77 84.44 763.73 72.65 773.7 64.5 C783.67 56.36 788.65 59.6 803.6 54.53 C818.55 49.46 838.48 38.44 863.4 34.1 C888.32 29.77 938.15 29.44 953.1 28.51" fill="none" stroke="#0c16ee" stroke-width="2.1" stroke-linejoin="round"/>
<path d="M579.35 266.21 L584.25 271.71 L579.35 277.21 L574.45 271.71 Z" fill="#0c16ee"/>
<path d="M639.15 260.62 L644.05 266.12 L639.15 271.62 L634.25 266.12 Z" fill="#0c16ee"/>
<path d="M654.1 255.51 L659 261.01 L654.1 266.51 L649.2 261.01 Z" fill="#0c16ee"/>
<path d="M684 223.65 L688.9 229.15 L684 234.65 L679.1 229.15 Z" fill="#0c16ee"/>
<path d="M698.95 201.03 L703.85 206.53 L698.95 212.03 L694.05 206.53 Z" fill="#0c16ee"/>
<path d="M713.9 172.82 L718.8 178.32 L713.9 183.82 L709 178.32 Z" fill="#0c16ee"/>
<path d="M743.8 97.91 L748.7 103.41 L743.8 108.91 L738.9 103.41 Z" fill="#0c16ee"/>
<path d="M773.7 59 L778.6 64.5 L773.7 70 L768.8 64.5 Z" fill="#0c16ee"/>
<path d="M803.6 49.03 L808.5 54.53 L803.6 60.03 L798.7 54.53 Z" fill="#0c16ee"/>
<path d="M863.4 28.6 L868.3 34.1 L863.4 39.6 L858.5 34.1 Z" fill="#0c16ee"/>
<path d="M953.1 23.01 L958 28.51 L953.1 34.01 L948.2 28.51 Z" fill="#0c16ee"/>
<path d="M564.4 271.71 C569.38 271.79 586.82 272.72 594.3 272.2 C601.77 271.67 604.27 270.21 609.25 268.55 C614.23 266.89 619.22 265.14 624.2 262.22 C629.18 259.31 634.17 256.59 639.15 251.04 C644.13 245.48 649.12 237.01 654.1 228.91 C659.08 220.8 664.07 211.19 669.05 202.4 C674.03 193.6 679.02 184.97 684 176.13 C688.98 167.29 693.97 157.53 698.95 149.38 C703.93 141.23 706.42 136.21 713.9 127.25 C721.38 118.29 728.85 105.12 743.8 95.63 C758.75 86.15 768.72 77.51 803.6 70.34 C838.48 63.16 928.18 55.54 953.1 52.59" fill="none" stroke="#0c16ee" stroke-width="2.1" stroke-dasharray="4 8" stroke-linejoin="round"/>
<path d="M564.4 266.11 L569.6 271.71 L564.4 277.31 L559.2 271.71 Z" fill="#fff" stroke="#0c16ee" stroke-width="1.3"/>
<path d="M594.3 266.6 L599.5 272.2 L594.3 277.8 L589.1 272.2 Z" fill="#fff" stroke="#0c16ee" stroke-width="1.3"/>
<path d="M609.25 262.95 L614.45 268.55 L609.25 274.15 L604.05 268.55 Z" fill="#fff" stroke="#0c16ee" stroke-width="1.3"/>
<path d="M624.2 256.62 L629.4 262.22 L624.2 267.82 L619 262.22 Z" fill="#fff" stroke="#0c16ee" stroke-width="1.3"/>
<path d="M639.15 245.44 L644.35 251.04 L639.15 256.64 L633.95 251.04 Z" fill="#fff" stroke="#0c16ee" stroke-width="1.3"/>
<path d="M654.1 223.31 L659.3 228.91 L654.1 234.51 L648.9 228.91 Z" fill="#fff" stroke="#0c16ee" stroke-width="1.3"/>
<path d="M669.05 196.8 L674.25 202.4 L669.05 208 L663.85 202.4 Z" fill="#fff" stroke="#0c16ee" stroke-width="1.3"/>
<path d="M684 170.53 L689.2 176.13 L684 181.73 L678.8 176.13 Z" fill="#fff" stroke="#0c16ee" stroke-width="1.3"/>
<path d="M698.95 143.78 L704.15 149.38 L698.95 154.98 L693.75 149.38 Z" fill="#fff" stroke="#0c16ee" stroke-width="1.3"/>
<path d="M713.9 121.65 L719.1 127.25 L713.9 132.85 L708.7 127.25 Z" fill="#fff" stroke="#0c16ee" stroke-width="1.3"/>
<path d="M743.8 90.03 L749 95.63 L743.8 101.23 L738.6 95.63 Z" fill="#fff" stroke="#0c16ee" stroke-width="1.3"/>
<path d="M803.6 64.74 L808.8 70.34 L803.6 75.94 L798.4 70.34 Z" fill="#fff" stroke="#0c16ee" stroke-width="1.3"/>
<path d="M953.1 46.99 L958.3 52.59 L953.1 58.19 L947.9 52.59 Z" fill="#fff" stroke="#0c16ee" stroke-width="1.3"/>
<path d="M594.3 265.14 C599.28 264.45 614.23 263.2 624.2 261.01 C634.17 258.82 646.62 254.73 654.1 252.01 C661.58 249.29 664.07 247.43 669.05 244.71 C674.03 242 676.52 240.5 684 235.72 C691.48 230.93 703.93 224.28 713.9 216.02 C723.87 207.75 733.83 197.29 743.8 186.1 C753.77 174.92 763.73 160 773.7 148.89 C783.67 137.79 793.63 129.15 803.6 119.47 C813.57 109.78 823.53 98.87 833.5 90.77 C843.47 82.66 843.47 79.54 863.4 70.83 C883.33 62.11 938.15 43.87 953.1 38.48" fill="none" stroke="#2af50a" stroke-width="2.1" stroke-linejoin="round"/>
<rect x="588.8" y="259.64" width="11" height="11" fill="#2af50a"/>
<rect x="618.7" y="255.51" width="11" height="11" fill="#2af50a"/>
<rect x="648.6" y="246.51" width="11" height="11" fill="#2af50a"/>
<rect x="663.55" y="239.21" width="11" height="11" fill="#2af50a"/>
<rect x="678.5" y="230.22" width="11" height="11" fill="#2af50a"/>
<rect x="708.4" y="210.52" width="11" height="11" fill="#2af50a"/>
<rect x="738.3" y="180.6" width="11" height="11" fill="#2af50a"/>
<rect x="768.2" y="143.39" width="11" height="11" fill="#2af50a"/>
<rect x="798.1" y="113.97" width="11" height="11" fill="#2af50a"/>
<rect x="828" y="85.27" width="11" height="11" fill="#2af50a"/>
<rect x="857.9" y="65.33" width="11" height="11" fill="#2af50a"/>
<rect x="947.6" y="32.98" width="11" height="11" fill="#2af50a"/>
<path d="M624.2 273.17 C629.18 273.17 644.13 273.69 654.1 273.17 C664.07 272.64 674.03 272.2 684 270.01 C693.97 267.82 703.93 263.52 713.9 260.04 C723.87 256.55 736.32 252.9 743.8 249.09 C751.27 245.28 753.77 241.31 758.75 237.17 C763.73 233.04 766.23 231.26 773.7 224.28 C781.18 217.31 793.63 205.03 803.6 195.34 C813.57 185.66 823.53 174.67 833.5 166.16 C843.47 157.65 843.47 155.42 863.4 144.27 C883.33 133.13 938.15 106.78 953.1 99.28" fill="none" stroke="#aa00f5" stroke-width="2.1" stroke-linejoin="round"/>
<path d="M624.2 267.37 L629.9 278.97 L618.5 278.97 Z" fill="#aa00f5"/>
<path d="M654.1 267.37 L659.8 278.97 L648.4 278.97 Z" fill="#aa00f5"/>
<path d="M713.9 254.24 L719.6 265.84 L708.2 265.84 Z" fill="#aa00f5"/>
<path d="M743.8 243.29 L749.5 254.89 L738.1 254.89 Z" fill="#aa00f5"/>
<path d="M758.75 231.37 L764.45 242.97 L753.05 242.97 Z" fill="#aa00f5"/>
<path d="M773.7 218.48 L779.4 230.08 L768 230.08 Z" fill="#aa00f5"/>
<path d="M803.6 189.54 L809.3 201.14 L797.9 201.14 Z" fill="#aa00f5"/>
<path d="M833.5 160.36 L839.2 171.96 L827.8 171.96 Z" fill="#aa00f5"/>
<path d="M863.4 138.47 L869.1 150.07 L857.7 150.07 Z" fill="#aa00f5"/>
<path d="M953.1 93.48 L958.8 105.08 L947.4 105.08 Z" fill="#aa00f5"/>
<path d="M654.1 268.55 C659.08 268.55 674.03 268.79 684 268.55 C693.97 268.3 703.93 267.49 713.9 267.09 C723.87 266.68 733.83 266.76 743.8 266.12 C753.77 265.47 763.73 263.68 773.7 263.2 C783.67 262.71 793.63 263.89 803.6 263.2 C813.57 262.51 821.04 260.08 833.5 259.06 C845.96 258.05 858.42 259.22 878.35 257.12 C898.28 255.01 940.64 248.2 953.1 246.42" fill="none" stroke="#14d214" stroke-width="2.1" stroke-linejoin="round"/>
<circle cx="654.1" cy="268.55" r="5.3" fill="#14d214"/>
<circle cx="684" cy="268.55" r="5.3" fill="#14d214"/>
<circle cx="713.9" cy="267.09" r="5.3" fill="#14d214"/>
<circle cx="743.8" cy="266.12" r="5.3" fill="#14d214"/>
<circle cx="773.7" cy="263.2" r="5.3" fill="#14d214"/>
<circle cx="803.6" cy="263.2" r="5.3" fill="#14d214"/>
<circle cx="833.5" cy="259.06" r="5.3" fill="#14d214"/>
<circle cx="878.35" cy="257.12" r="5.3" fill="#14d214"/>
<circle cx="953.1" cy="246.42" r="5.3" fill="#14d214"/>
<rect x="564.4" y="20.2" width="122.6" height="147.1" fill="#fff" stroke="#a0a0a0" stroke-width="1.5"/>
<path d="M570.6 34.4 H614" stroke="#ff2846" stroke-width="2.6"/>
<rect x="587.5" y="29.6" width="9.6" height="9.6" fill="#fff" stroke="#ff2846" stroke-width="1.4"/>
<text x="618.6" y="39.6" text-anchor="start" font-size="15.7" fill="#242424" stroke="#242424" stroke-width="0.2">ZrO2</text>
<path d="M570.6 58.75 H614" stroke="#0c16ee" stroke-width="2.6"/>
<path d="M592.3 53.25 L597.2 58.75 L592.3 64.25 L587.4 58.75 Z" fill="#0c16ee"/>
<text x="618.6" y="63.95" text-anchor="start" font-size="15.7" fill="#242424" stroke="#242424" stroke-width="0.2">TiO2</text>
<path d="M570.6 83.1 H614" stroke="#0c16ee" stroke-width="2.6" stroke-dasharray="4 8"/>
<path d="M592.3 77.5 L597.5 83.1 L592.3 88.7 L587.1 83.1 Z" fill="#fff" stroke="#0c16ee" stroke-width="1.3"/>
<text x="618.6" y="88.3" text-anchor="start" font-size="15.7" fill="#242424" stroke="#242424" stroke-width="0.2">TiO2b</text>
<path d="M570.6 107.45 H614" stroke="#2af50a" stroke-width="2.6"/>
<rect x="586.8" y="101.95" width="11" height="11" fill="#2af50a"/>
<text x="618.6" y="112.65" text-anchor="start" font-size="15.7" fill="#242424" stroke="#242424" stroke-width="0.2">Al2O3</text>
<path d="M570.6 131.8 H614" stroke="#aa00f5" stroke-width="2.6"/>
<path d="M592.3 126 L598 137.6 L586.6 137.6 Z" fill="#aa00f5"/>
<text x="618.6" y="137" text-anchor="start" font-size="15.7" fill="#242424" stroke="#242424" stroke-width="0.2">H-ZSM-5</text>
<path d="M570.6 156.15 H614" stroke="#14d214" stroke-width="2.6"/>
<circle cx="592.3" cy="156.15" r="5.3" fill="#14d214"/>
<text x="618.6" y="161.35" text-anchor="start" font-size="15.7" fill="#242424" stroke="#242424" stroke-width="0.2">SiO2</text>
<rect x="687" y="20.5" width="75" height="23" fill="#fff" stroke="#505050" stroke-width="1.2"/>
<text x="724.5" y="37.5" text-anchor="middle" font-size="15.7" fill="#242424" stroke="#242424" stroke-width="0.2">5% water</text>
<text x="500" y="365" text-anchor="start" font-size="15.7" fill="#242424" stroke="#242424" stroke-width="0.2">(d)</text>
<path d="M563.8 360.5 L956 360.5 L956 617.3" fill="none" stroke="#c4c8cc" stroke-width="1.6"/>
<path d="M563.8 360.5 L563.8 617.3 L956 617.3" fill="none" stroke="#8a8a8a" stroke-width="1.8"/>
<path d="M558.3 617.3 H563.8" stroke="#8a8a8a" stroke-width="1.4"/>
<text x="550.8" y="622.9" text-anchor="end" font-size="15.7" fill="#242424" stroke="#242424" stroke-width="0.2">0</text>
<path d="M558.3 568.26 H563.8" stroke="#8a8a8a" stroke-width="1.4"/>
<text x="550.8" y="573.86" text-anchor="end" font-size="15.7" fill="#242424" stroke="#242424" stroke-width="0.2">20</text>
<path d="M558.3 519.22 H563.8" stroke="#8a8a8a" stroke-width="1.4"/>
<text x="550.8" y="524.82" text-anchor="end" font-size="15.7" fill="#242424" stroke="#242424" stroke-width="0.2">40</text>
<path d="M558.3 470.18 H563.8" stroke="#8a8a8a" stroke-width="1.4"/>
<text x="550.8" y="475.78" text-anchor="end" font-size="15.7" fill="#242424" stroke="#242424" stroke-width="0.2">60</text>
<path d="M558.3 421.14 H563.8" stroke="#8a8a8a" stroke-width="1.4"/>
<text x="550.8" y="426.74" text-anchor="end" font-size="15.7" fill="#242424" stroke="#242424" stroke-width="0.2">80</text>
<path d="M558.3 372.1 H563.8" stroke="#8a8a8a" stroke-width="1.4"/>
<text x="550.8" y="377.7" text-anchor="end" font-size="15.7" fill="#242424" stroke="#242424" stroke-width="0.2">100</text>
<path d="M563.8 617.3 V622.8" stroke="#8a8a8a" stroke-width="1.4"/>
<text x="563.8" y="647.1" text-anchor="middle" font-size="15.7" fill="#242424" stroke="#242424" stroke-width="0.2">120</text>
<path d="M654.22 617.3 V622.8" stroke="#8a8a8a" stroke-width="1.4"/>
<text x="654.22" y="647.1" text-anchor="middle" font-size="15.7" fill="#242424" stroke="#242424" stroke-width="0.2">150</text>
<path d="M744.64 617.3 V622.8" stroke="#8a8a8a" stroke-width="1.4"/>
<text x="744.64" y="647.1" text-anchor="middle" font-size="15.7" fill="#242424" stroke="#242424" stroke-width="0.2">180</text>
<path d="M835.06 617.3 V622.8" stroke="#8a8a8a" stroke-width="1.4"/>
<text x="835.06" y="647.1" text-anchor="middle" font-size="15.7" fill="#242424" stroke="#242424" stroke-width="0.2">210</text>
<path d="M925.48 617.3 V622.8" stroke="#8a8a8a" stroke-width="1.4"/>
<text x="925.48" y="647.1" text-anchor="middle" font-size="15.7" fill="#242424" stroke="#242424" stroke-width="0.2">240</text>
<text x="759.9" y="674.6" text-anchor="middle" font-size="15.7" font-weight="bold" fill="#242424" stroke="#242424" stroke-width="0.2">T, °C</text>
<text transform="translate(515.2 488.9) rotate(-90)" text-anchor="middle" font-size="16.1" font-weight="bold" fill="#242424">HNCO yield (FTIR), %</text>
<path d="M624.08 579.29 C629.1 574.02 644.17 562.99 654.22 547.66 C664.27 532.34 674.31 510.35 684.36 487.34 C694.41 464.34 704.45 425.76 714.5 409.62 C724.55 393.47 737.1 392.29 744.64 390.49 C752.17 388.69 754.69 396.17 759.71 398.83 C764.73 401.48 767.25 400.34 774.78 406.43 C782.31 412.52 794.87 425.14 804.92 435.36 C814.97 445.58 825.01 459.23 835.06 467.73 C845.11 476.23 845.11 476.15 865.2 486.36 C885.29 496.58 940.55 521.92 955.62 529.03" fill="none" stroke="#aa00f5" stroke-width="2.1" stroke-linejoin="round"/>
<path d="M624.08 573.49 L629.78 585.09 L618.38 585.09 Z" fill="#aa00f5"/>
<path d="M654.22 541.86 L659.92 553.46 L648.52 553.46 Z" fill="#aa00f5"/>
<path d="M684.36 481.54 L690.06 493.14 L678.66 493.14 Z" fill="#aa00f5"/>
<path d="M714.5 403.82 L720.2 415.42 L708.8 415.42 Z" fill="#aa00f5"/>
<path d="M744.64 384.69 L750.34 396.29 L738.94 396.29 Z" fill="#aa00f5"/>
<path d="M759.71 393.03 L765.41 404.63 L754.01 404.63 Z" fill="#aa00f5"/>
<path d="M774.78 400.63 L780.48 412.23 L769.08 412.23 Z" fill="#aa00f5"/>
<path d="M804.92 429.56 L810.62 441.16 L799.22 441.16 Z" fill="#aa00f5"/>
<path d="M835.06 461.93 L840.76 473.53 L829.36 473.53 Z" fill="#aa00f5"/>
<path d="M865.2 480.56 L870.9 492.16 L859.5 492.16 Z" fill="#aa00f5"/>
<path d="M955.62 523.23 L961.32 534.83 L949.92 534.83 Z" fill="#aa00f5"/>
<path d="M563.8 605.78 C566.31 605.65 573.85 605.49 578.87 605.04 C583.89 604.59 588.92 604.26 593.94 603.08 C598.96 601.89 601.48 601.44 609.01 597.93 C616.54 594.41 631.62 586.94 639.15 581.99 C646.68 577.05 646.68 575.82 654.22 568.26 C661.75 560.7 676.82 543.58 684.36 536.63 C691.89 529.68 694.41 527.39 699.43 526.58 C704.45 525.76 706.97 525.31 714.5 531.73 C722.03 538.14 734.59 555.02 744.64 565.07 C754.69 575.13 764.73 586.04 774.78 592.04 C784.83 598.05 789.85 598.79 804.92 601.12 C819.99 603.45 840.08 604.55 865.2 606.02 C890.32 607.49 940.55 609.29 955.62 609.94" fill="none" stroke="#0c16ee" stroke-width="2.1" stroke-linejoin="round"/>
<path d="M609.01 592.43 L613.91 597.93 L609.01 603.43 L604.11 597.93 Z" fill="#0c16ee"/>
<path d="M639.15 576.49 L644.05 581.99 L639.15 587.49 L634.25 581.99 Z" fill="#0c16ee"/>
<path d="M654.22 562.76 L659.12 568.26 L654.22 573.76 L649.32 568.26 Z" fill="#0c16ee"/>
<path d="M684.36 531.13 L689.26 536.63 L684.36 542.13 L679.46 536.63 Z" fill="#0c16ee"/>
<path d="M699.43 521.08 L704.33 526.58 L699.43 532.08 L694.53 526.58 Z" fill="#0c16ee"/>
<path d="M714.5 526.23 L719.4 531.73 L714.5 537.23 L709.6 531.73 Z" fill="#0c16ee"/>
<path d="M744.64 559.57 L749.54 565.07 L744.64 570.57 L739.74 565.07 Z" fill="#0c16ee"/>
<path d="M774.78 586.54 L779.68 592.04 L774.78 597.54 L769.88 592.04 Z" fill="#0c16ee"/>
<path d="M804.92 595.62 L809.82 601.12 L804.92 606.62 L800.02 601.12 Z" fill="#0c16ee"/>
<path d="M865.2 600.52 L870.1 606.02 L865.2 611.52 L860.3 606.02 Z" fill="#0c16ee"/>
<path d="M955.62 604.44 L960.52 609.94 L955.62 615.44 L950.72 609.94 Z" fill="#0c16ee"/>
<path d="M609.01 589.84 C611.52 588.12 619.06 583.63 624.08 579.54 C629.1 575.45 634.13 569.12 639.15 565.32 C644.17 561.52 649.2 558.49 654.22 556.74 C659.24 554.98 664.27 553.87 669.29 554.77 C674.31 555.67 679.34 559.92 684.36 562.13 C689.38 564.34 689.38 563.89 699.43 568.01 C709.48 572.14 727.06 582.36 744.64 586.9 C762.22 591.43 769.76 593.11 804.92 595.23 C840.08 597.36 930.5 598.91 955.62 599.65" fill="none" stroke="#0c16ee" stroke-width="2.1" stroke-dasharray="4 8" stroke-linejoin="round"/>
<path d="M609.01 584.24 L614.21 589.84 L609.01 595.44 L603.81 589.84 Z" fill="#fff" stroke="#0c16ee" stroke-width="1.3"/>
<path d="M624.08 573.94 L629.28 579.54 L624.08 585.14 L618.88 579.54 Z" fill="#fff" stroke="#0c16ee" stroke-width="1.3"/>
<path d="M639.15 559.72 L644.35 565.32 L639.15 570.92 L633.95 565.32 Z" fill="#fff" stroke="#0c16ee" stroke-width="1.3"/>
<path d="M654.22 551.14 L659.42 556.74 L654.22 562.34 L649.02 556.74 Z" fill="#fff" stroke="#0c16ee" stroke-width="1.3"/>
<path d="M669.29 549.17 L674.49 554.77 L669.29 560.37 L664.09 554.77 Z" fill="#fff" stroke="#0c16ee" stroke-width="1.3"/>
<path d="M684.36 556.53 L689.56 562.13 L684.36 567.73 L679.16 562.13 Z" fill="#fff" stroke="#0c16ee" stroke-width="1.3"/>
<path d="M699.43 562.41 L704.63 568.01 L699.43 573.61 L694.23 568.01 Z" fill="#fff" stroke="#0c16ee" stroke-width="1.3"/>
<path d="M744.64 581.3 L749.84 586.9 L744.64 592.5 L739.44 586.9 Z" fill="#fff" stroke="#0c16ee" stroke-width="1.3"/>
<path d="M804.92 589.63 L810.12 595.23 L804.92 600.83 L799.72 595.23 Z" fill="#fff" stroke="#0c16ee" stroke-width="1.3"/>
<path d="M955.62 594.05 L960.82 599.65 L955.62 605.25 L950.42 599.65 Z" fill="#fff" stroke="#0c16ee" stroke-width="1.3"/>
<path d="M593.94 597.44 C598.96 596.62 614.03 595.07 624.08 592.53 C634.13 590 646.68 585.02 654.22 582.24 C661.75 579.46 664.27 577.5 669.29 575.86 C674.31 574.23 676.82 575.08 684.36 572.43 C691.89 569.77 704.45 563.81 714.5 559.92 C724.55 556.04 734.59 551.91 744.64 549.13 C754.69 546.36 764.73 542.92 774.78 543.25 C784.83 543.58 794.87 547.62 804.92 551.1 C814.97 554.57 825.01 559.92 835.06 564.09 C845.11 568.26 845.11 569.85 865.2 576.11 C885.29 582.36 940.55 597.36 955.62 601.61" fill="none" stroke="#2af50a" stroke-width="2.1" stroke-linejoin="round"/>
<rect x="588.44" y="591.94" width="11" height="11" fill="#2af50a"/>
<rect x="618.58" y="587.03" width="11" height="11" fill="#2af50a"/>
<rect x="648.72" y="576.74" width="11" height="11" fill="#2af50a"/>
<rect x="663.79" y="570.36" width="11" height="11" fill="#2af50a"/>
<rect x="678.86" y="566.93" width="11" height="11" fill="#2af50a"/>
<rect x="709" y="554.42" width="11" height="11" fill="#2af50a"/>
<rect x="739.14" y="543.63" width="11" height="11" fill="#2af50a"/>
<rect x="769.28" y="537.75" width="11" height="11" fill="#2af50a"/>
<rect x="799.42" y="545.6" width="11" height="11" fill="#2af50a"/>
<rect x="829.56" y="558.59" width="11" height="11" fill="#2af50a"/>
<rect x="859.7" y="570.61" width="11" height="11" fill="#2af50a"/>
<rect x="950.12" y="596.11" width="11" height="11" fill="#2af50a"/>
<path d="M654.22 584.69 C659.24 584.32 674.31 583.5 684.36 582.48 C694.41 581.46 704.45 580.23 714.5 578.56 C724.55 576.88 734.59 574.64 744.64 572.43 C754.69 570.22 764.73 567.36 774.78 565.32 C784.83 563.27 794.87 563.07 804.92 560.17 C814.97 557.27 822.5 551.67 835.06 547.91 C847.62 544.15 860.18 546.31 880.27 537.61 C900.36 528.91 943.06 502.67 955.62 495.68" fill="none" stroke="#14d214" stroke-width="2.1" stroke-linejoin="round"/>
<circle cx="654.22" cy="584.69" r="5.3" fill="#14d214"/>
<circle cx="684.36" cy="582.48" r="5.3" fill="#14d214"/>
<circle cx="714.5" cy="578.56" r="5.3" fill="#14d214"/>
<circle cx="744.64" cy="572.43" r="5.3" fill="#14d214"/>
<circle cx="774.78" cy="565.32" r="5.3" fill="#14d214"/>
<circle cx="804.92" cy="560.17" r="5.3" fill="#14d214"/>
<circle cx="835.06" cy="547.91" r="5.3" fill="#14d214"/>
<circle cx="880.27" cy="537.61" r="5.3" fill="#14d214"/>
<circle cx="955.62" cy="495.68" r="5.3" fill="#14d214"/>
<path d="M563.8 606.51 C566.31 606.51 573.85 606.51 578.87 606.51 C583.89 606.51 588.92 606.51 593.94 606.51 C598.96 606.51 603.99 606.51 609.01 606.51 C614.03 606.51 619.06 606.51 624.08 606.51 C629.1 606.51 634.13 606.51 639.15 606.51 C644.17 606.51 649.2 606.51 654.22 606.51 C659.24 606.51 664.27 606.51 669.29 606.51 C674.31 606.51 679.34 606.51 684.36 606.51 C689.38 606.51 694.41 606.43 699.43 606.51 C704.45 606.59 706.97 606.47 714.5 607 C722.03 607.53 734.59 609 744.64 609.7 C754.69 610.39 764.73 610.92 774.78 611.17 C784.83 611.42 789.85 610.88 804.92 611.17 C819.99 611.46 840.08 612.44 865.2 612.89 C890.32 613.34 940.55 613.7 955.62 613.87" fill="none" stroke="#ff2846" stroke-width="2.1" stroke-linejoin="round"/>
<rect x="559" y="601.71" width="9.6" height="9.6" fill="#fff" stroke="#ff2846" stroke-width="1.4"/>
<rect x="574.07" y="601.71" width="9.6" height="9.6" fill="#fff" stroke="#ff2846" stroke-width="1.4"/>
<rect x="589.14" y="601.71" width="9.6" height="9.6" fill="#fff" stroke="#ff2846" stroke-width="1.4"/>
<rect x="604.21" y="601.71" width="9.6" height="9.6" fill="#fff" stroke="#ff2846" stroke-width="1.4"/>
<rect x="619.28" y="601.71" width="9.6" height="9.6" fill="#fff" stroke="#ff2846" stroke-width="1.4"/>
<rect x="634.35" y="601.71" width="9.6" height="9.6" fill="#fff" stroke="#ff2846" stroke-width="1.4"/>
<rect x="649.42" y="601.71" width="9.6" height="9.6" fill="#fff" stroke="#ff2846" stroke-width="1.4"/>
<rect x="664.49" y="601.71" width="9.6" height="9.6" fill="#fff" stroke="#ff2846" stroke-width="1.4"/>
<rect x="679.56" y="601.71" width="9.6" height="9.6" fill="#fff" stroke="#ff2846" stroke-width="1.4"/>
<rect x="694.63" y="601.71" width="9.6" height="9.6" fill="#fff" stroke="#ff2846" stroke-width="1.4"/>
<rect x="709.7" y="602.2" width="9.6" height="9.6" fill="#fff" stroke="#ff2846" stroke-width="1.4"/>
<rect x="739.84" y="604.9" width="9.6" height="9.6" fill="#fff" stroke="#ff2846" stroke-width="1.4"/>
<rect x="769.98" y="606.37" width="9.6" height="9.6" fill="#fff" stroke="#ff2846" stroke-width="1.4"/>
<rect x="800.12" y="606.37" width="9.6" height="9.6" fill="#fff" stroke="#ff2846" stroke-width="1.4"/>
<rect x="860.4" y="608.09" width="9.6" height="9.6" fill="#fff" stroke="#ff2846" stroke-width="1.4"/>
<rect x="950.82" y="609.07" width="9.6" height="9.6" fill="#fff" stroke="#ff2846" stroke-width="1.4"/>
<rect x="563.6" y="360.6" width="123.8" height="147.4" fill="#fff" stroke="#a0a0a0" stroke-width="1.5"/>
<path d="M569.4 374.4 H613" stroke="#aa00f5" stroke-width="2.6"/>
<path d="M591.2 368.6 L596.9 380.2 L585.5 380.2 Z" fill="#aa00f5"/>
<text x="618" y="379.6" text-anchor="start" font-size="15.7" fill="#242424" stroke="#242424" stroke-width="0.2">H-ZSM-5</text>
<path d="M569.4 398.9 H613" stroke="#0c16ee" stroke-width="2.6"/>
<path d="M591.2 393.4 L596.1 398.9 L591.2 404.4 L586.3 398.9 Z" fill="#0c16ee"/>
<text x="618" y="404.1" text-anchor="start" font-size="15.7" fill="#242424" stroke="#242424" stroke-width="0.2">TiO2</text>
<path d="M569.4 423.4 H613" stroke="#0c16ee" stroke-width="2.6" stroke-dasharray="4 8"/>
<path d="M591.2 417.8 L596.4 423.4 L591.2 429 L586 423.4 Z" fill="#fff" stroke="#0c16ee" stroke-width="1.3"/>
<text x="618" y="428.6" text-anchor="start" font-size="15.7" fill="#242424" stroke="#242424" stroke-width="0.2">TiO2b</text>
<path d="M569.4 447.9 H613" stroke="#2af50a" stroke-width="2.6"/>
<rect x="585.7" y="442.4" width="11" height="11" fill="#2af50a"/>
<text x="618" y="453.1" text-anchor="start" font-size="15.7" fill="#242424" stroke="#242424" stroke-width="0.2">Al2O3</text>
<path d="M569.4 472.4 H613" stroke="#14d214" stroke-width="2.6"/>
<circle cx="591.2" cy="472.4" r="5.3" fill="#14d214"/>
<text x="618" y="477.6" text-anchor="start" font-size="15.7" fill="#242424" stroke="#242424" stroke-width="0.2">SiO2</text>
<path d="M569.4 496.9 H613" stroke="#ff2846" stroke-width="2.6"/>
<rect x="586.4" y="492.1" width="9.6" height="9.6" fill="#fff" stroke="#ff2846" stroke-width="1.4"/>
<text x="618" y="502.1" text-anchor="start" font-size="15.7" fill="#242424" stroke="#242424" stroke-width="0.2">ZrO2</text>
<rect x="881" y="360.8" width="75" height="22.2" fill="#fff" stroke="#505050" stroke-width="1.2"/>
<text x="918.5" y="377.4" text-anchor="middle" font-size="15.7" fill="#242424" stroke="#242424" stroke-width="0.2">5% water</text>
</svg></body></html>
